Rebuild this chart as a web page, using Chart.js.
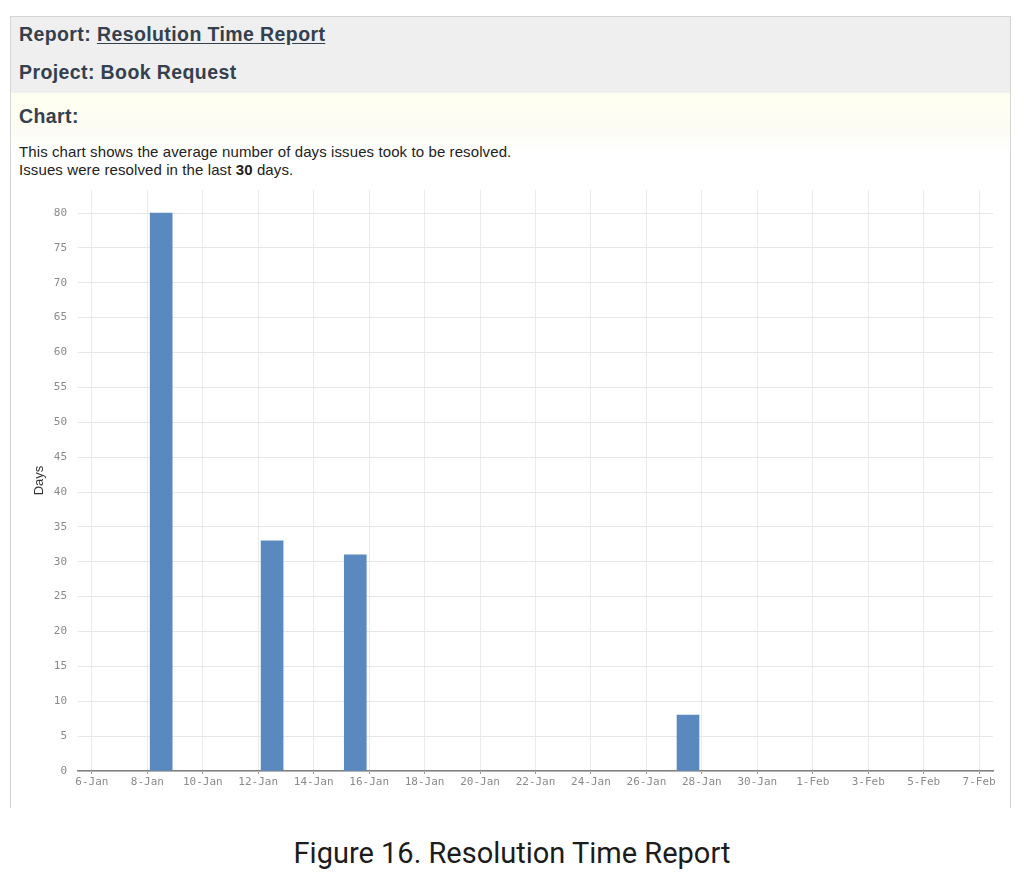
<!DOCTYPE html>
<html>
<head>
<meta charset="utf-8">
<script src="https://cdn.jsdelivr.net/npm/chart.js@4"></script>
<style>
  html, body { margin: 0; padding: 0; background: #ffffff; }
  body { width: 1024px; height: 883px; position: relative; overflow: hidden; font-family: "Liberation Sans", Arial, sans-serif; }
  #panel { position: absolute; left: 10px; top: 16px; width: 1001px; height: 792px;
           border-left: 1px solid #d4d4d4; border-right: 1px solid #d4d4d4; border-top: 1px solid #d4d4d4; box-sizing: border-box; }
  #hdr { position: absolute; left: 11px; top: 17px; width: 1000px; height: 76px; background: #efefef; }
  #yel { position: absolute; left: 11px; top: 93px; width: 1000px; height: 60px;
         background: linear-gradient(#fffff0 0%, #fcfcf4 60%, #ffffff 100%); }
  .h { position: absolute; left: 19px; font-weight: bold; font-size: 19.5px; letter-spacing: 0.4px; color: #34404e; white-space: nowrap; }
  .h u { text-decoration: underline; text-underline-offset: 2px; }
  .p { position: absolute; left: 19px; font-size: 15px; letter-spacing: 0.1px; color: #222; white-space: nowrap; }
  #cv { position: absolute; left: 0; top: 180px; }
  #cap { position: absolute; left: 0; width: 1024px; top: 836px; text-align: center;
         font-family: Roboto, "Noto Sans", sans-serif; font-size: 29px; color: #1c1c1c; }
</style>
</head>
<body>
<div id="hdr"></div>
<div id="yel"></div>
<div id="panel"></div>
<div class="h" style="top:23px">Report: <u>Resolution Time Report</u></div>
<div class="h" style="top:61px">Project: Book Request</div>
<div class="h" style="top:105px">Chart:</div>
<div class="p" style="top:143px">This chart shows the average number of days issues took to be resolved.</div>
<div class="p" style="top:161px">Issues were resolved in the last <b>30</b> days.</div>
<canvas id="cv" width="1024" height="620"></canvas>
<div id="cap">Figure 16. Resolution Time Report</div>
<script>
// ---- data ----
const resolvedDates = ['8-Jan', '12-Jan', '15-Jan', '27-Jan'];
const avgDays = [80, 33, 31, 8];
const tickLabels = ['6-Jan', '8-Jan', '10-Jan', '12-Jan', '14-Jan', '16-Jan', '18-Jan', '20-Jan', '22-Jan',
                    '24-Jan', '26-Jan', '28-Jan', '30-Jan', '1-Feb', '3-Feb', '5-Feb', '7-Feb'];
const yTicks = [0, 5, 10, 15, 20, 25, 30, 35, 40, 45, 50, 55, 60, 65, 70, 75, 80];

// day index counted from 6-Jan
const monthOffset = { Jan: 0, Feb: 31 };
function dayIndex(lbl) {
  const [d, m] = lbl.split('-');
  return parseInt(d, 10) - 6 + monthOffset[m];
}

// each bar covers its whole day period (start of day to end of day)
const points = resolvedDates.map((d, i) => ({ x: dayIndex(d) + 0.5, y: avgDays[i] }));

const tickFont = { family: '"DejaVu Sans Mono", monospace', size: 11 };

new Chart(document.getElementById('cv'), {
  type: 'bar',
  data: {
    datasets: [{
      label: 'Days',
      data: points,
      backgroundColor: '#5a89bf',
      borderColor: '#5a89bf',
      borderWidth: 0,
      barThickness: 22
    }]
  },
  options: {
    responsive: false,
    animation: false,
    layout: { padding: { left: 0, right: 31, top: 10, bottom: 0 } },
    plugins: { legend: { display: false }, tooltip: { enabled: false } },
    scales: {
      x: {
        type: 'linear',
        offset: false,
        min: -0.5,
        max: 32.5,
        afterBuildTicks: (s) => { s.ticks = tickLabels.map(l => ({ value: dayIndex(l) })); },
        afterFit: (s) => { s.height = 29; s.paddingLeft = 0; s.paddingRight = 0; },
        ticks: {
          autoSkip: false, maxRotation: 0, minRotation: 0, padding: 2,
          color: '#8a8a8a', font: tickFont,
          callback: (v, i) => tickLabels[i]
        },
        grid: { offset: false, color: '#ebebeb', lineWidth: 1, drawTicks: true, tickLength: 3, tickColor: '#999' },
        border: { display: true, color: '#808080', width: 1.5 }
      },
      y: {
        min: 0,
        max: 83.3,
        afterBuildTicks: (s) => { s.ticks = yTicks.map(v => ({ value: v })); },
        afterFit: (s) => { s.width = 78; s.paddingTop = 0; s.paddingBottom = 0; },
        ticks: { color: '#8a8a8a', font: tickFont, padding: 11, callback: (v) => String(v) },
        grid: { color: '#e6e6e6', lineWidth: 1, drawTicks: false },
        border: { display: false },
        title: {
          display: true, text: 'Days', color: '#333',
          font: { family: '"Liberation Sans", Arial, sans-serif', size: 13 },
          padding: { top: 32, bottom: 0 }
        }
      }
    }
  }
});
</script>
</body>
</html>
